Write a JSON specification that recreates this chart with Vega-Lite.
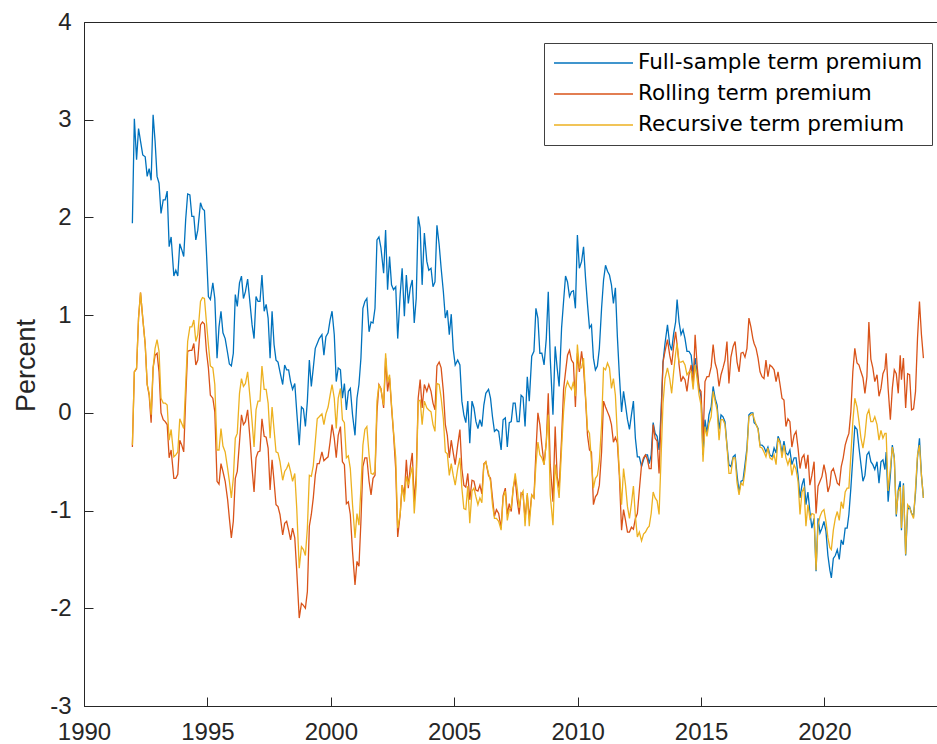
{
  "$schema": "https://vega.github.io/schema/vega-lite/v6.json",
  "width": 853,
  "height": 684,
  "autosize": {"type": "none"},
  "padding": {"left": 84, "top": 22, "right": 0, "bottom": 38},
  "background": "white",
  "config": {
    "view": {"stroke": "#262626", "strokeWidth": 1},
    "axis": {
      "domainColor": "#262626", "tickColor": "#262626", "labelColor": "#262626", "titleColor": "#262626",
      "labelFont": "Liberation Sans", "titleFont": "Liberation Sans", "labelFontSize": 24,
      "grid": false, "tickSize": -9, "tickWidth": 1, "domainWidth": 1
    },
    "legend": {
      "orient": "none", "legendX": 460, "legendY": 21, "symbolType": "stroke", "symbolSize": 6241,
      "symbolStrokeWidth": 1.3, "labelFont": "DejaVu Sans", "labelFontSize": 21.5, "labelColor": "#000000",
      "labelOffset": 4, "padding": 9, "rowPadding": 9, "clipHeight": 22, "strokeColor": "#404040",
      "fillColor": "white", "labelLimit": 400, "cornerRadius": 0
    }
  },
  "data": {"values": [
    {"t":1991.96,"full":1.94,"rolling":-0.35,"recursive":-0.33},
    {"t":1992.04,"full":3.01,"rolling":0.42,"recursive":0.42},
    {"t":1992.13,"full":2.59,"rolling":0.45,"recursive":0.46},
    {"t":1992.21,"full":2.91,"rolling":0.97,"recursive":0.97},
    {"t":1992.29,"full":2.78,"rolling":1.23,"recursive":1.23},
    {"t":1992.38,"full":2.64,"rolling":0.97,"recursive":0.97},
    {"t":1992.48,"full":2.62,"rolling":0.70,"recursive":0.70},
    {"t":1992.56,"full":2.42,"rolling":0.29,"recursive":0.29},
    {"t":1992.64,"full":2.50,"rolling":0.18,"recursive":0.20},
    {"t":1992.72,"full":2.38,"rolling":-0.10,"recursive":-0.02},
    {"t":1992.80,"full":3.05,"rolling":0.46,"recursive":0.46},
    {"t":1992.88,"full":2.78,"rolling":0.59,"recursive":0.66},
    {"t":1992.96,"full":2.42,"rolling":0.61,"recursive":0.75},
    {"t":1993.04,"full":2.35,"rolling":0.42,"recursive":0.63},
    {"t":1993.12,"full":2.04,"rolling":0.00,"recursive":0.15},
    {"t":1993.21,"full":2.18,"rolling":-0.07,"recursive":0.10},
    {"t":1993.29,"full":2.18,"rolling":-0.09,"recursive":0.10},
    {"t":1993.37,"full":2.27,"rolling":-0.12,"recursive":0.08},
    {"t":1993.45,"full":1.70,"rolling":-0.46,"recursive":-0.28},
    {"t":1993.53,"full":1.80,"rolling":-0.38,"recursive":-0.17},
    {"t":1993.64,"full":1.40,"rolling":-0.67,"recursive":-0.45},
    {"t":1993.72,"full":1.46,"rolling":-0.67,"recursive":-0.43},
    {"t":1993.80,"full":1.40,"rolling":-0.63,"recursive":-0.40},
    {"t":1993.88,"full":1.73,"rolling":-0.28,"recursive":-0.06},
    {"t":1993.96,"full":1.67,"rolling":-0.33,"recursive":-0.11},
    {"t":1994.04,"full":1.60,"rolling":-0.40,"recursive":-0.16},
    {"t":1994.12,"full":1.98,"rolling":0.15,"recursive":0.29},
    {"t":1994.20,"full":2.24,"rolling":0.63,"recursive":0.73},
    {"t":1994.29,"full":2.23,"rolling":0.64,"recursive":0.88},
    {"t":1994.37,"full":2.01,"rolling":0.64,"recursive":0.88},
    {"t":1994.45,"full":2.01,"rolling":0.71,"recursive":0.95},
    {"t":1994.53,"full":1.77,"rolling":0.49,"recursive":0.73},
    {"t":1994.61,"full":1.87,"rolling":0.54,"recursive":0.80},
    {"t":1994.72,"full":2.15,"rolling":0.90,"recursive":1.14},
    {"t":1994.80,"full":2.09,"rolling":0.93,"recursive":1.18},
    {"t":1994.88,"full":2.07,"rolling":0.91,"recursive":1.17},
    {"t":1994.96,"full":1.65,"rolling":0.63,"recursive":0.93},
    {"t":1995.04,"full":1.19,"rolling":0.46,"recursive":0.70},
    {"t":1995.12,"full":1.16,"rolling":0.18,"recursive":0.48},
    {"t":1995.22,"full":1.33,"rolling":0.15,"recursive":0.46},
    {"t":1995.30,"full":1.17,"rolling":0.01,"recursive":0.29},
    {"t":1995.39,"full":0.56,"rolling":-0.70,"recursive":-0.38},
    {"t":1995.47,"full":0.88,"rolling":-0.73,"recursive":-0.38},
    {"t":1995.55,"full":1.04,"rolling":-0.52,"recursive":-0.16},
    {"t":1995.63,"full":0.82,"rolling":-0.60,"recursive":-0.34},
    {"t":1995.72,"full":0.76,"rolling":-0.70,"recursive":-0.40},
    {"t":1995.82,"full":0.61,"rolling":-0.89,"recursive":-0.57},
    {"t":1995.89,"full":0.50,"rolling":-1.08,"recursive":-0.70},
    {"t":1995.97,"full":0.48,"rolling":-1.28,"recursive":-0.87},
    {"t":1996.05,"full":0.61,"rolling":-1.11,"recursive":-0.67},
    {"t":1996.13,"full":1.21,"rolling":-0.67,"recursive":-0.26},
    {"t":1996.21,"full":1.09,"rolling":-0.60,"recursive":-0.21},
    {"t":1996.30,"full":1.33,"rolling":-0.30,"recursive":0.20},
    {"t":1996.38,"full":1.40,"rolling":-0.02,"recursive":0.35},
    {"t":1996.46,"full":1.17,"rolling":-0.12,"recursive":0.27},
    {"t":1996.54,"full":1.24,"rolling":-0.09,"recursive":0.30},
    {"t":1996.63,"full":1.37,"rolling":0.03,"recursive":0.42},
    {"t":1996.73,"full":1.11,"rolling":-0.28,"recursive":0.15},
    {"t":1996.81,"full":0.90,"rolling":-0.57,"recursive":-0.09},
    {"t":1996.89,"full":0.76,"rolling":-0.81,"recursive":-0.35},
    {"t":1996.97,"full":1.19,"rolling":-0.46,"recursive":0.03},
    {"t":1997.05,"full":1.14,"rolling":-0.40,"recursive":0.12},
    {"t":1997.13,"full":1.14,"rolling":-0.39,"recursive":0.12},
    {"t":1997.21,"full":1.41,"rolling":-0.06,"recursive":0.48},
    {"t":1997.30,"full":1.04,"rolling":-0.24,"recursive":0.24},
    {"t":1997.38,"full":1.11,"rolling":-0.25,"recursive":0.24},
    {"t":1997.46,"full":0.97,"rolling":-0.36,"recursive":0.10},
    {"t":1997.54,"full":0.56,"rolling":-0.79,"recursive":-0.26},
    {"t":1997.62,"full":1.04,"rolling":-0.48,"recursive":0.06},
    {"t":1997.70,"full":0.70,"rolling":-0.70,"recursive":-0.17},
    {"t":1997.78,"full":0.54,"rolling":-0.94,"recursive":-0.40},
    {"t":1997.86,"full":0.52,"rolling":-0.96,"recursive":-0.41},
    {"t":1997.94,"full":0.42,"rolling":-1.04,"recursive":-0.50},
    {"t":1998.05,"full":0.29,"rolling":-1.25,"recursive":-0.69},
    {"t":1998.13,"full":0.49,"rolling":-1.13,"recursive":-0.60},
    {"t":1998.21,"full":0.44,"rolling":-1.11,"recursive":-0.57},
    {"t":1998.29,"full":0.44,"rolling":-1.20,"recursive":-0.52},
    {"t":1998.37,"full":0.32,"rolling":-1.30,"recursive":-0.60},
    {"t":1998.45,"full":0.24,"rolling":-1.18,"recursive":-0.70},
    {"t":1998.54,"full":0.30,"rolling":-1.28,"recursive":-0.62},
    {"t":1998.62,"full":0.01,"rolling":-1.62,"recursive":-0.98},
    {"t":1998.72,"full":-0.33,"rolling":-2.10,"recursive":-1.59},
    {"t":1998.81,"full":0.06,"rolling":-1.95,"recursive":-1.37},
    {"t":1998.89,"full":0.04,"rolling":-1.97,"recursive":-1.40},
    {"t":1998.97,"full":-0.14,"rolling":-2.00,"recursive":-1.46},
    {"t":1999.05,"full":0.12,"rolling":-1.83,"recursive":-1.18},
    {"t":1999.13,"full":0.54,"rolling":-1.16,"recursive":-0.64},
    {"t":1999.21,"full":0.27,"rolling":-1.04,"recursive":-0.65},
    {"t":1999.29,"full":0.46,"rolling":-0.87,"recursive":-0.54},
    {"t":1999.37,"full":0.66,"rolling":-0.64,"recursive":-0.30},
    {"t":1999.45,"full":0.71,"rolling":-0.52,"recursive":-0.06},
    {"t":1999.53,"full":0.76,"rolling":-0.52,"recursive":-0.04},
    {"t":1999.64,"full":0.80,"rolling":-0.40,"recursive":-0.01},
    {"t":1999.72,"full":0.59,"rolling":-0.49,"recursive":-0.12},
    {"t":1999.80,"full":0.78,"rolling":-0.47,"recursive":-0.01},
    {"t":1999.89,"full":0.82,"rolling":-0.45,"recursive":0.06},
    {"t":1999.97,"full":0.95,"rolling":-0.30,"recursive":0.18},
    {"t":2000.05,"full":1.04,"rolling":-0.12,"recursive":0.29},
    {"t":2000.14,"full":0.80,"rolling":-0.26,"recursive":0.15},
    {"t":2000.22,"full":0.32,"rolling":-0.46,"recursive":-0.16},
    {"t":2000.30,"full":0.46,"rolling":-0.23,"recursive":0.15},
    {"t":2000.39,"full":0.44,"rolling":-0.14,"recursive":0.25},
    {"t":2000.47,"full":0.15,"rolling":-0.50,"recursive":-0.07},
    {"t":2000.55,"full":0.30,"rolling":-0.53,"recursive":-0.10},
    {"t":2000.63,"full":0.03,"rolling":-0.93,"recursive":-0.46},
    {"t":2000.71,"full":0.22,"rolling":-0.91,"recursive":-0.44},
    {"t":2000.79,"full":0.25,"rolling":-1.04,"recursive":-0.57},
    {"t":2000.88,"full":-0.02,"rolling":-1.42,"recursive":-0.94},
    {"t":2000.98,"full":-0.23,"rolling":-1.76,"recursive":-1.28},
    {"t":2001.06,"full":0.15,"rolling":-1.52,"recursive":-1.03},
    {"t":2001.14,"full":0.29,"rolling":-1.57,"recursive":-1.15},
    {"t":2001.22,"full":0.56,"rolling":-1.11,"recursive":-0.77},
    {"t":2001.30,"full":1.07,"rolling":-0.55,"recursive":-0.33},
    {"t":2001.38,"full":1.14,"rolling":-0.46,"recursive":-0.17},
    {"t":2001.46,"full":1.17,"rolling":-0.46,"recursive":-0.14},
    {"t":2001.55,"full":0.83,"rolling":-0.70,"recursive":-0.43},
    {"t":2001.63,"full":0.93,"rolling":-0.84,"recursive":-0.62},
    {"t":2001.71,"full":0.92,"rolling":-0.67,"recursive":-0.63},
    {"t":2001.79,"full":1.07,"rolling":-0.64,"recursive":-0.60},
    {"t":2001.87,"full":1.77,"rolling":0.01,"recursive":0.12},
    {"t":2001.95,"full":1.80,"rolling":0.29,"recursive":0.29},
    {"t":2002.03,"full":1.69,"rolling":0.25,"recursive":0.24},
    {"t":2002.14,"full":1.43,"rolling":0.05,"recursive":0.08},
    {"t":2002.22,"full":1.87,"rolling":0.56,"recursive":0.61},
    {"t":2002.30,"full":1.26,"rolling":0.22,"recursive":0.32},
    {"t":2002.38,"full":1.60,"rolling":0.36,"recursive":0.39},
    {"t":2002.46,"full":1.31,"rolling":0.06,"recursive":0.08},
    {"t":2002.54,"full":1.26,"rolling":-0.21,"recursive":-0.19},
    {"t":2002.63,"full":1.29,"rolling":-0.58,"recursive":-0.46},
    {"t":2002.71,"full":0.76,"rolling":-1.27,"recursive":-1.18},
    {"t":2002.81,"full":1.21,"rolling":-1.04,"recursive":-1.04},
    {"t":2002.89,"full":1.48,"rolling":-0.74,"recursive":-0.74},
    {"t":2002.98,"full":0.99,"rolling":-0.84,"recursive":-0.91},
    {"t":2003.06,"full":1.41,"rolling":-0.48,"recursive":-0.65},
    {"t":2003.14,"full":1.12,"rolling":-0.77,"recursive":-0.74},
    {"t":2003.22,"full":1.28,"rolling":-0.55,"recursive":-0.64},
    {"t":2003.30,"full":1.36,"rolling":-0.41,"recursive":-0.55},
    {"t":2003.38,"full":0.92,"rolling":-0.91,"recursive":-1.03},
    {"t":2003.46,"full":1.17,"rolling":-0.64,"recursive":-0.74},
    {"t":2003.54,"full":2.01,"rolling":0.15,"recursive":0.12},
    {"t":2003.62,"full":1.89,"rolling":0.34,"recursive":0.13},
    {"t":2003.70,"full":1.31,"rolling":0.05,"recursive":-0.12},
    {"t":2003.79,"full":1.84,"rolling":0.29,"recursive":0.12},
    {"t":2003.89,"full":1.55,"rolling":0.22,"recursive":0.05},
    {"t":2003.97,"full":1.46,"rolling":0.29,"recursive":0.03},
    {"t":2004.06,"full":1.48,"rolling":0.22,"recursive":0.01},
    {"t":2004.14,"full":1.29,"rolling":0.10,"recursive":-0.12},
    {"t":2004.22,"full":1.34,"rolling":0.03,"recursive":-0.19},
    {"t":2004.30,"full":1.92,"rolling":0.48,"recursive":0.30},
    {"t":2004.39,"full":1.72,"rolling":0.52,"recursive":0.29},
    {"t":2004.47,"full":1.48,"rolling":0.46,"recursive":0.15},
    {"t":2004.56,"full":1.24,"rolling":0.22,"recursive":-0.06},
    {"t":2004.64,"full":0.97,"rolling":-0.12,"recursive":-0.40},
    {"t":2004.72,"full":1.05,"rolling":-0.23,"recursive":-0.42},
    {"t":2004.80,"full":0.80,"rolling":-0.46,"recursive":-0.64},
    {"t":2004.88,"full":1.01,"rolling":-0.28,"recursive":-0.52},
    {"t":2004.96,"full":0.65,"rolling":-0.41,"recursive":-0.64},
    {"t":2005.04,"full":0.49,"rolling":-0.53,"recursive":-0.74},
    {"t":2005.14,"full":0.54,"rolling":-0.33,"recursive":-0.57},
    {"t":2005.23,"full":0.49,"rolling":-0.17,"recursive":-0.46},
    {"t":2005.31,"full":0.12,"rolling":-0.57,"recursive":-0.77},
    {"t":2005.39,"full":-0.02,"rolling":-0.74,"recursive":-0.98},
    {"t":2005.47,"full":-0.10,"rolling":-0.76,"recursive":-0.99},
    {"t":2005.55,"full":0.12,"rolling":-0.62,"recursive":-0.75},
    {"t":2005.63,"full":-0.31,"rolling":-0.89,"recursive":-1.13},
    {"t":2005.72,"full":0.12,"rolling":-0.69,"recursive":-0.80},
    {"t":2005.80,"full":0.05,"rolling":-0.70,"recursive":-0.77},
    {"t":2005.88,"full":-0.09,"rolling":-0.79,"recursive":-0.86},
    {"t":2005.96,"full":-0.16,"rolling":-0.80,"recursive":-0.94},
    {"t":2006.04,"full":-0.07,"rolling":-0.74,"recursive":-0.87},
    {"t":2006.12,"full":-0.14,"rolling":-0.83,"recursive":-0.92},
    {"t":2006.20,"full":0.08,"rolling":-0.52,"recursive":-0.53},
    {"t":2006.28,"full":0.20,"rolling":-0.50,"recursive":-0.50},
    {"t":2006.39,"full":0.24,"rolling":-0.64,"recursive":-0.62},
    {"t":2006.47,"full":0.15,"rolling":-0.67,"recursive":-0.70},
    {"t":2006.55,"full":-0.04,"rolling":-0.87,"recursive":-0.94},
    {"t":2006.63,"full":-0.19,"rolling":-1.06,"recursive":-1.08},
    {"t":2006.71,"full":-0.17,"rolling":-0.99,"recursive":-1.08},
    {"t":2006.80,"full":-0.19,"rolling":-1.03,"recursive":-1.11},
    {"t":2006.90,"full":-0.38,"rolling":-1.18,"recursive":-1.20},
    {"t":2006.98,"full":-0.07,"rolling":-0.85,"recursive":-0.87},
    {"t":2007.07,"full":-0.05,"rolling":-0.77,"recursive":-0.80},
    {"t":2007.15,"full":-0.35,"rolling":-1.04,"recursive":-1.10},
    {"t":2007.23,"full":-0.10,"rolling":-0.93,"recursive":-0.99},
    {"t":2007.31,"full":-0.09,"rolling":-1.01,"recursive":-0.97},
    {"t":2007.39,"full":0.10,"rolling":-0.77,"recursive":-0.77},
    {"t":2007.47,"full":0.10,"rolling":-0.67,"recursive":-0.62},
    {"t":2007.55,"full":-0.09,"rolling":-0.89,"recursive":-0.77},
    {"t":2007.63,"full":-0.09,"rolling":-1.04,"recursive":-0.97},
    {"t":2007.71,"full":0.18,"rolling":-0.82,"recursive":-0.84},
    {"t":2007.79,"full":0.16,"rolling":-0.84,"recursive":-0.80},
    {"t":2007.87,"full":-0.14,"rolling":-1.08,"recursive":-1.16},
    {"t":2007.96,"full":0.37,"rolling":-0.84,"recursive":-0.82},
    {"t":2008.04,"full":0.12,"rolling":-1.08,"recursive":-1.16},
    {"t":2008.14,"full":0.58,"rolling":-0.84,"recursive":-0.84},
    {"t":2008.23,"full":0.63,"rolling":-0.87,"recursive":-0.87},
    {"t":2008.31,"full":1.07,"rolling":-0.40,"recursive":-0.53},
    {"t":2008.39,"full":0.97,"rolling":0.00,"recursive":-0.30},
    {"t":2008.47,"full":0.61,"rolling":-0.12,"recursive":-0.43},
    {"t":2008.55,"full":0.61,"rolling":-0.33,"recursive":-0.46},
    {"t":2008.64,"full":0.49,"rolling":-0.53,"recursive":-0.53},
    {"t":2008.73,"full":0.76,"rolling":-0.30,"recursive":-0.30},
    {"t":2008.81,"full":1.24,"rolling":0.20,"recursive":-0.02},
    {"t":2008.89,"full":0.56,"rolling":-0.53,"recursive":-0.84},
    {"t":2009.00,"full":-0.02,"rolling":-0.91,"recursive":-1.15},
    {"t":2009.09,"full":0.68,"rolling":-0.14,"recursive":-0.53},
    {"t":2009.17,"full":0.46,"rolling":-0.65,"recursive":-0.70},
    {"t":2009.25,"full":0.27,"rolling":-0.77,"recursive":-0.87},
    {"t":2009.35,"full":0.87,"rolling":-0.26,"recursive":-0.36},
    {"t":2009.43,"full":1.14,"rolling":0.24,"recursive":0.01},
    {"t":2009.51,"full":1.40,"rolling":0.42,"recursive":0.25},
    {"t":2009.59,"full":1.34,"rolling":0.59,"recursive":0.32},
    {"t":2009.67,"full":1.19,"rolling":0.64,"recursive":0.27},
    {"t":2009.75,"full":1.24,"rolling":0.54,"recursive":0.24},
    {"t":2009.83,"full":1.25,"rolling":0.51,"recursive":0.32},
    {"t":2009.91,"full":1.07,"rolling":0.06,"recursive":0.17},
    {"t":2009.99,"full":1.82,"rolling":0.61,"recursive":0.70},
    {"t":2010.07,"full":1.48,"rolling":0.42,"recursive":0.46},
    {"t":2010.16,"full":1.55,"rolling":0.63,"recursive":0.46},
    {"t":2010.24,"full":1.70,"rolling":0.46,"recursive":0.56},
    {"t":2010.32,"full":1.38,"rolling":0.15,"recursive":0.18},
    {"t":2010.40,"full":1.11,"rolling":-0.23,"recursive":-0.17},
    {"t":2010.48,"full":0.87,"rolling":-0.38,"recursive":-0.21},
    {"t":2010.56,"full":0.90,"rolling":-0.40,"recursive":-0.50},
    {"t":2010.64,"full":0.56,"rolling":-0.94,"recursive":-0.77},
    {"t":2010.72,"full":0.44,"rolling":-0.86,"recursive":-0.67},
    {"t":2010.80,"full":0.48,"rolling":-0.83,"recursive":-0.64},
    {"t":2010.88,"full":0.66,"rolling":-0.74,"recursive":-0.50},
    {"t":2010.97,"full":1.07,"rolling":-0.40,"recursive":-0.12},
    {"t":2011.05,"full":1.36,"rolling":0.12,"recursive":0.46},
    {"t":2011.13,"full":1.51,"rolling":0.06,"recursive":0.44},
    {"t":2011.21,"full":1.45,"rolling":0.01,"recursive":0.51},
    {"t":2011.29,"full":1.41,"rolling":-0.04,"recursive":0.46},
    {"t":2011.37,"full":1.31,"rolling":-0.12,"recursive":0.25},
    {"t":2011.45,"full":1.12,"rolling":-0.30,"recursive":0.35},
    {"t":2011.53,"full":1.28,"rolling":-0.25,"recursive":0.18},
    {"t":2011.61,"full":0.78,"rolling":-0.31,"recursive":-0.23},
    {"t":2011.69,"full":0.39,"rolling":-0.64,"recursive":-0.60},
    {"t":2011.78,"full":0.01,"rolling":-1.20,"recursive":-0.94},
    {"t":2011.86,"full":0.22,"rolling":-0.99,"recursive":-0.57},
    {"t":2011.94,"full":0.08,"rolling":-1.10,"recursive":-0.74},
    {"t":2012.02,"full":-0.07,"rolling":-1.22,"recursive":-0.96},
    {"t":2012.10,"full":-0.17,"rolling":-1.22,"recursive":-1.08},
    {"t":2012.18,"full":-0.02,"rolling":-1.17,"recursive":-0.93},
    {"t":2012.26,"full":0.12,"rolling":-1.19,"recursive":-0.75},
    {"t":2012.34,"full":-0.26,"rolling":-1.08,"recursive":-1.06},
    {"t":2012.42,"full":-0.45,"rolling":-1.03,"recursive":-1.27},
    {"t":2012.50,"full":-0.45,"rolling":-0.79,"recursive":-1.22},
    {"t":2012.59,"full":-0.55,"rolling":-0.53,"recursive":-1.31},
    {"t":2012.67,"full":-0.48,"rolling":-0.46,"recursive":-1.24},
    {"t":2012.75,"full":-0.43,"rolling":-0.43,"recursive":-1.22},
    {"t":2012.83,"full":-0.43,"rolling":-0.48,"recursive":-1.18},
    {"t":2012.90,"full":-0.52,"rolling":-0.57,"recursive":-1.16},
    {"t":2012.98,"full":-0.43,"rolling":-0.57,"recursive":-1.03},
    {"t":2013.06,"full":-0.10,"rolling":-0.12,"recursive":-0.81},
    {"t":2013.14,"full":-0.21,"rolling":-0.26,"recursive":-0.87},
    {"t":2013.22,"full":-0.24,"rolling":-0.29,"recursive":-0.90},
    {"t":2013.30,"full":-0.38,"rolling":-0.62,"recursive":-1.04},
    {"t":2013.38,"full":0.01,"rolling":-0.06,"recursive":-0.46},
    {"t":2013.46,"full":0.52,"rolling":0.52,"recursive":0.10},
    {"t":2013.54,"full":0.71,"rolling":0.63,"recursive":0.35},
    {"t":2013.64,"full":0.90,"rolling":0.75,"recursive":0.46},
    {"t":2013.73,"full":0.70,"rolling":0.59,"recursive":0.35},
    {"t":2013.81,"full":0.64,"rolling":0.49,"recursive":0.20},
    {"t":2013.89,"full":0.81,"rolling":0.68,"recursive":0.42},
    {"t":2013.97,"full":0.93,"rolling":0.83,"recursive":0.61},
    {"t":2014.03,"full":1.16,"rolling":0.70,"recursive":0.71},
    {"t":2014.11,"full":0.93,"rolling":0.49,"recursive":0.52},
    {"t":2014.19,"full":0.80,"rolling":0.32,"recursive":0.52},
    {"t":2014.27,"full":0.85,"rolling":0.37,"recursive":0.53},
    {"t":2014.35,"full":0.76,"rolling":0.34,"recursive":0.49},
    {"t":2014.43,"full":0.63,"rolling":0.22,"recursive":0.39},
    {"t":2014.51,"full":0.63,"rolling":0.39,"recursive":0.42},
    {"t":2014.60,"full":0.59,"rolling":0.49,"recursive":0.42},
    {"t":2014.68,"full":0.39,"rolling":0.27,"recursive":0.24},
    {"t":2014.76,"full":0.56,"rolling":0.80,"recursive":0.49},
    {"t":2014.84,"full":0.42,"rolling":0.49,"recursive":0.35},
    {"t":2014.92,"full":0.25,"rolling":0.25,"recursive":0.18},
    {"t":2015.00,"full":0.17,"rolling":0.22,"recursive":0.08},
    {"t":2015.08,"full":-0.43,"rolling":-0.30,"recursive":-0.50},
    {"t":2015.16,"full":-0.07,"rolling":0.32,"recursive":-0.14},
    {"t":2015.24,"full":-0.21,"rolling":0.37,"recursive":-0.24},
    {"t":2015.32,"full":-0.02,"rolling":0.37,"recursive":-0.11},
    {"t":2015.41,"full":0.06,"rolling":0.47,"recursive":-0.04},
    {"t":2015.49,"full":0.27,"rolling":0.70,"recursive":0.22},
    {"t":2015.57,"full":0.15,"rolling":0.51,"recursive":0.12},
    {"t":2015.65,"full":0.08,"rolling":0.44,"recursive":0.03},
    {"t":2015.73,"full":-0.17,"rolling":0.27,"recursive":-0.28},
    {"t":2015.81,"full":-0.02,"rolling":0.39,"recursive":-0.07},
    {"t":2015.89,"full":-0.04,"rolling":0.46,"recursive":-0.07},
    {"t":2015.97,"full":-0.09,"rolling":0.54,"recursive":-0.12},
    {"t":2016.05,"full":-0.33,"rolling":0.73,"recursive":-0.34},
    {"t":2016.13,"full":-0.53,"rolling":0.30,"recursive":-0.62},
    {"t":2016.21,"full":-0.55,"rolling":0.57,"recursive":-0.62},
    {"t":2016.30,"full":-0.45,"rolling":0.68,"recursive":-0.46},
    {"t":2016.38,"full":-0.43,"rolling":0.73,"recursive":-0.46},
    {"t":2016.46,"full":-0.64,"rolling":0.52,"recursive":-0.72},
    {"t":2016.54,"full":-0.81,"rolling":0.42,"recursive":-0.84},
    {"t":2016.62,"full":-0.70,"rolling":0.61,"recursive":-0.72},
    {"t":2016.70,"full":-0.69,"rolling":0.62,"recursive":-0.74},
    {"t":2016.78,"full":-0.53,"rolling":0.57,"recursive":-0.60},
    {"t":2016.86,"full":-0.36,"rolling":0.66,"recursive":-0.40},
    {"t":2016.94,"full":-0.02,"rolling":0.97,"recursive":-0.04},
    {"t":2017.02,"full":0.00,"rolling":0.88,"recursive":-0.02},
    {"t":2017.10,"full":0.00,"rolling":0.76,"recursive":-0.01},
    {"t":2017.15,"full":-0.10,"rolling":0.71,"recursive":-0.06},
    {"t":2017.23,"full":-0.12,"rolling":0.66,"recursive":-0.12},
    {"t":2017.31,"full":-0.16,"rolling":0.56,"recursive":-0.17},
    {"t":2017.39,"full":-0.33,"rolling":0.42,"recursive":-0.35},
    {"t":2017.47,"full":-0.33,"rolling":0.37,"recursive":-0.36},
    {"t":2017.55,"full":-0.35,"rolling":0.35,"recursive":-0.40},
    {"t":2017.63,"full":-0.40,"rolling":0.54,"recursive":-0.45},
    {"t":2017.71,"full":-0.35,"rolling":0.37,"recursive":-0.36},
    {"t":2017.79,"full":-0.43,"rolling":0.49,"recursive":-0.46},
    {"t":2017.88,"full":-0.45,"rolling":0.47,"recursive":-0.48},
    {"t":2017.96,"full":-0.36,"rolling":0.44,"recursive":-0.43},
    {"t":2018.04,"full":-0.41,"rolling":0.32,"recursive":-0.53},
    {"t":2018.12,"full":-0.24,"rolling":0.42,"recursive":-0.26},
    {"t":2018.20,"full":-0.29,"rolling":0.29,"recursive":-0.31},
    {"t":2018.28,"full":-0.41,"rolling":0.15,"recursive":-0.46},
    {"t":2018.36,"full":-0.29,"rolling":0.13,"recursive":-0.33},
    {"t":2018.44,"full":-0.41,"rolling":-0.14,"recursive":-0.46},
    {"t":2018.52,"full":-0.43,"rolling":-0.06,"recursive":-0.53},
    {"t":2018.60,"full":-0.38,"rolling":-0.09,"recursive":-0.46},
    {"t":2018.68,"full":-0.53,"rolling":-0.35,"recursive":-0.64},
    {"t":2018.77,"full":-0.46,"rolling":-0.23,"recursive":-0.53},
    {"t":2018.85,"full":-0.46,"rolling":-0.19,"recursive":-0.58},
    {"t":2018.93,"full":-0.64,"rolling":-0.36,"recursive":-0.70},
    {"t":2019.01,"full":-0.87,"rolling":-0.57,"recursive":-1.04},
    {"t":2019.09,"full":-0.74,"rolling":-0.46,"recursive":-0.81},
    {"t":2019.17,"full":-0.67,"rolling":-0.43,"recursive":-0.77},
    {"t":2019.25,"full":-0.94,"rolling":-0.57,"recursive":-1.16},
    {"t":2019.33,"full":-0.81,"rolling":-0.43,"recursive":-0.94},
    {"t":2019.41,"full":-1.01,"rolling":-0.74,"recursive":-1.08},
    {"t":2019.49,"full":-1.18,"rolling":-0.64,"recursive":-1.03},
    {"t":2019.58,"full":-1.08,"rolling":-0.50,"recursive":-1.04},
    {"t":2019.66,"full":-1.62,"rolling":-1.03,"recursive":-1.61},
    {"t":2019.74,"full":-1.08,"rolling":-0.75,"recursive":-1.15},
    {"t":2019.82,"full":-1.23,"rolling":-0.70,"recursive":-1.06},
    {"t":2019.90,"full":-1.18,"rolling":-0.65,"recursive":-1.01},
    {"t":2019.98,"full":-1.11,"rolling":-0.53,"recursive":-0.99},
    {"t":2020.06,"full":-1.21,"rolling":-0.63,"recursive":-1.11},
    {"t":2020.14,"full":-1.46,"rolling":-0.81,"recursive":-1.28},
    {"t":2020.22,"full":-1.61,"rolling":-0.74,"recursive":-1.38},
    {"t":2020.28,"full":-1.69,"rolling":-0.60,"recursive":-1.40},
    {"t":2020.36,"full":-1.49,"rolling":-0.57,"recursive":-1.20},
    {"t":2020.44,"full":-1.46,"rolling":-0.64,"recursive":-1.08},
    {"t":2020.52,"full":-1.40,"rolling":-0.72,"recursive":-1.01},
    {"t":2020.60,"full":-1.50,"rolling":-0.74,"recursive":-1.10},
    {"t":2020.68,"full":-1.30,"rolling":-0.55,"recursive":-0.91},
    {"t":2020.76,"full":-1.35,"rolling":-0.46,"recursive":-0.98},
    {"t":2020.84,"full":-1.18,"rolling":-0.33,"recursive":-0.81},
    {"t":2020.92,"full":-1.18,"rolling":-0.26,"recursive":-0.77},
    {"t":2020.99,"full":-1.04,"rolling":-0.21,"recursive":-0.77},
    {"t":2021.07,"full":-0.77,"rolling":0.01,"recursive":-0.43},
    {"t":2021.15,"full":-0.46,"rolling":0.42,"recursive":-0.09},
    {"t":2021.23,"full":-0.14,"rolling":0.66,"recursive":0.15},
    {"t":2021.32,"full":-0.17,"rolling":0.51,"recursive":0.06},
    {"t":2021.40,"full":-0.36,"rolling":0.49,"recursive":-0.09},
    {"t":2021.48,"full":-0.53,"rolling":0.42,"recursive":-0.26},
    {"t":2021.56,"full":-0.70,"rolling":0.36,"recursive":-0.36},
    {"t":2021.64,"full":-0.64,"rolling":0.20,"recursive":-0.23},
    {"t":2021.72,"full":-0.43,"rolling":0.37,"recursive":-0.02},
    {"t":2021.80,"full":-0.40,"rolling":0.93,"recursive":0.03},
    {"t":2021.88,"full":-0.50,"rolling":0.55,"recursive":-0.09},
    {"t":2021.96,"full":-0.53,"rolling":0.46,"recursive":-0.09},
    {"t":2022.04,"full":-0.58,"rolling":0.32,"recursive":-0.04},
    {"t":2022.13,"full":-0.50,"rolling":0.39,"recursive":-0.12},
    {"t":2022.21,"full":-0.72,"rolling":0.17,"recursive":-0.28},
    {"t":2022.29,"full":-0.50,"rolling":0.25,"recursive":-0.18},
    {"t":2022.37,"full":-0.48,"rolling":0.40,"recursive":-0.26},
    {"t":2022.45,"full":-0.58,"rolling":0.45,"recursive":-0.21},
    {"t":2022.50,"full":-0.40,"rolling":0.61,"recursive":-0.21},
    {"t":2022.58,"full":-0.91,"rolling":0.25,"recursive":-0.80},
    {"t":2022.67,"full":-0.64,"rolling":-0.07,"recursive":-0.57},
    {"t":2022.75,"full":-0.33,"rolling":0.25,"recursive":-0.35},
    {"t":2022.83,"full":-0.46,"rolling":0.44,"recursive":-0.46},
    {"t":2022.91,"full":-1.06,"rolling":0.40,"recursive":-1.04},
    {"t":2022.99,"full":-0.79,"rolling":0.20,"recursive":-0.81},
    {"t":2023.07,"full":-0.70,"rolling":0.59,"recursive":-0.76},
    {"t":2023.12,"full":-1.20,"rolling":0.34,"recursive":-1.18},
    {"t":2023.20,"full":-0.72,"rolling":0.56,"recursive":-0.74},
    {"t":2023.29,"full":-1.46,"rolling":0.05,"recursive":-1.45},
    {"t":2023.37,"full":-0.99,"rolling":0.40,"recursive":-0.94},
    {"t":2023.45,"full":-0.96,"rolling":0.39,"recursive":-0.97},
    {"t":2023.53,"full":-1.03,"rolling":0.03,"recursive":-1.03},
    {"t":2023.61,"full":-1.05,"rolling":0.04,"recursive":-1.08},
    {"t":2023.69,"full":-0.82,"rolling":0.22,"recursive":-0.77},
    {"t":2023.77,"full":-0.46,"rolling":0.76,"recursive":-0.43},
    {"t":2023.85,"full":-0.26,"rolling":1.14,"recursive":-0.33},
    {"t":2023.93,"full":-0.64,"rolling":0.80,"recursive":-0.64},
    {"t":2024.01,"full":-0.87,"rolling":0.56,"recursive":-0.87}
  ]},
  "encoding": {
    "x": {
      "field": "t", "type": "quantitative",
      "scale": {"domain": [1990, 2024.56], "nice": false, "zero": false},
      "axis": {"values": [1990, 1995, 2000, 2005, 2010, 2015, 2020], "labelExpr": "'' + datum.value", "title": null, "labelPadding": 23, "labelFlush": false}
    }
  },
  "layer": [
    {
      "mark": {"type": "line", "strokeWidth": 1.3},
      "encoding": {
        "y": {
          "field": "full", "type": "quantitative",
          "scale": {"domain": [-3, 4], "nice": false, "zero": false},
          "axis": {"values": [-3, -2, -1, 0, 1, 2, 3, 4], "labelExpr": "'' + datum.value", "title": "Percent", "titleFontSize": 27, "titleFontWeight": "normal", "labelPadding": 22, "titleX": -58, "titleY": 343, "titleAngle": -90, "titleAlign": "center", "titleBaseline": "middle"}
        },
        "color": {
          "datum": "Full-sample term premium",
          "scale": {"domain": ["Full-sample term premium", "Rolling term premium", "Recursive term premium"], "range": ["#0072BD", "#D95319", "#EDB120"]},
          "legend": {"title": null}
        }
      }
    },
    {
      "mark": {"type": "line", "strokeWidth": 1.3},
      "encoding": {
        "y": {"field": "rolling", "type": "quantitative"},
        "color": {"datum": "Rolling term premium"}
      }
    },
    {
      "mark": {"type": "line", "strokeWidth": 1.3},
      "encoding": {
        "y": {"field": "recursive", "type": "quantitative"},
        "color": {"datum": "Recursive term premium"}
      }
    }
  ]
}
